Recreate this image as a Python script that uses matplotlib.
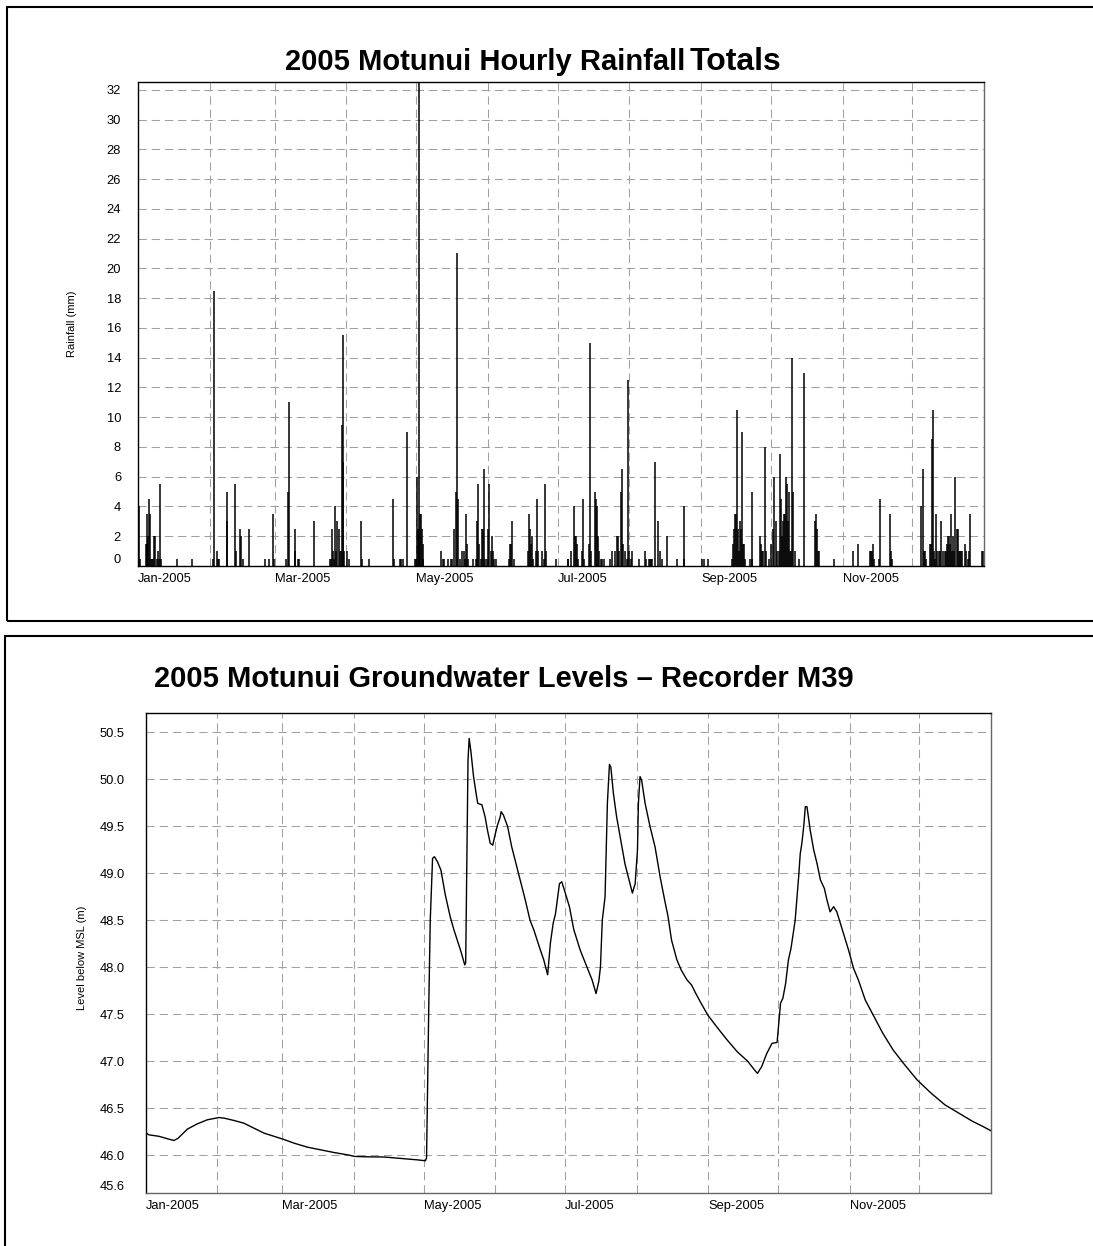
import datetime as dt
import matplotlib
matplotlib.use("Agg")
import matplotlib.pyplot as plt
import matplotlib.dates as mdates
from matplotlib.ticker import FixedLocator, FormatStrFormatter
from matplotlib.patches import Rectangle
import numpy as np

plt.rcParams['font.family'] = ['Liberation Sans', 'DejaVu Sans']
plt.rcParams['lines.scale_dashes'] = False

# hourly rainfall totals (day of year, mm)
rain_day = [0.58, 1.0, 3.45, 3.88, 4.17, 4.6, 5.03, 5.32, 5.75, 6.18, 6.61, 7.19, 7.62, 8.2, 8.63,
            9.06, 9.49, 9.92, 17.1, 23.3, 32.4, 32.8, 34.1, 34.8, 35.2, 38.4, 38.7, 41.8, 42.3,
            44.3, 44.7, 45.2, 47.9, 54.8, 56.5, 58.2, 58.7, 63.8, 65.0, 65.4, 67.6, 67.9, 69.0,
            69.5, 76.1, 82.9, 83.4, 83.7, 84.1, 84.6, 85.0, 85.4, 86.0, 86.6, 87.1, 87.6, 87.9,
            88.3, 88.6, 88.9, 90.2, 90.9, 96.3, 96.8, 99.7, 110.2, 110.6, 112.9, 113.6, 114.2,
            115.9, 119.5, 119.9, 120.4, 120.8, 121.1, 121.4, 121.7, 122.1, 122.5, 122.9, 123.2,
            130.6, 131.4, 132.2, 133.6, 135.0, 135.5, 136.5, 137.0, 137.6, 138.0, 138.8, 139.8,
            140.5, 141.1, 141.6, 142.1, 142.5, 144.5, 145.7, 146.2, 146.7, 147.3, 148.0, 148.4,
            148.8, 149.3, 149.8, 150.6, 151.0, 151.3, 152.1, 152.7, 153.1, 153.4, 154.3, 159.9,
            160.5, 160.9, 161.5, 162.1, 168.4, 168.7, 169.0, 169.4, 169.8, 170.3, 171.6, 172.1,
            172.6, 174.3, 175.0, 175.4, 175.9,
            180.4, 185.3, 185.7, 186.8, 188.2, 188.6, 189.1, 189.5, 190.0, 191.5, 192.0, 192.4,
            194.4, 195.0, 195.5, 197.1, 197.6, 198.0, 198.5, 199.0, 199.7, 200.3, 200.9, 203.8,
            204.6, 205.9, 206.6, 207.0, 207.6, 208.4, 208.8, 209.3, 210.1, 211.0, 211.4, 211.9,
            212.5, 213.3, 216.1, 218.7, 219.2, 220.2, 220.7, 221.2, 221.6, 223.0, 224.1, 225.3,
            226.0, 228.0, 232.3, 235.3, 235.6, 243.1, 244.0, 245.9, 256.1, 256.6, 257.0, 257.5,
            257.9, 258.4, 258.9, 259.2, 259.6, 260.1, 260.5, 261.0, 261.5, 261.9, 263.9, 264.7,
            265.0, 268.2, 268.6, 269.1, 269.5, 270.3, 270.7, 272.0, 273.0, 273.9, 274.5, 275.1,
            275.7, 276.4, 276.8, 277.3, 277.7, 278.2, 278.6, 279.1, 279.6, 280.0, 280.5, 280.9,
            281.4, 281.8, 282.1, 282.7, 283.2, 285.0, 287.3, 291.9, 292.3, 292.8, 293.2, 293.7,
            300.2, 308.4, 310.6, 315.7, 316.2, 316.7, 317.1, 317.6, 319.5, 320.0, 324.3, 324.7,
            325.2, 337.8, 338.4, 338.9, 339.3, 339.8, 341.4, 341.9, 342.4, 342.7, 343.1, 343.6,
            344.2, 344.6, 345.4, 345.9, 346.5, 347.1, 348.1, 348.4, 348.9, 349.4, 349.7, 350.1,
            350.6, 351.0, 351.5, 351.9, 352.4, 353.0, 353.5, 353.9, 354.4, 354.8, 355.3, 356.7,
            357.1, 357.9, 358.5, 359.0, 364.0, 364.4]
rain_mm = [4, 0.5, 1.5, 1.5, 3.5, 2, 4.5, 3.5, 0.5, 0.5, 0.5, 2, 2, 0.5, 1,
           0.5, 5.5, 0.5, 0.5, 0.5, 0.5, 18.5, 1, 0.5, 0.5, 5, 3, 5.5, 1,
           2.5, 2, 0.5, 2.5, 0.5, 0.5, 3.5, 0.5, 0.5, 5, 11, 2.5, 1, 0.5,
           0.5, 3, 0.5, 0.5, 2.5, 1, 0.5, 4, 1, 3, 2.5, 1, 1, 9.5,
           15.5, 7, 1, 1, 0.5, 3, 0.5, 0.5, 4.5, 0.5, 0.5, 0.5, 0.5,
           9, 0.5, 0.5, 6, 2.5, 34, 2.5, 3.5, 3.5, 2.5, 1.5, 0.5,
           1, 0.5, 0.5, 0.5, 0.5, 0.5, 2.5, 5, 21, 4.5, 0.5, 1,
           1, 0.5, 3.5, 1.5, 0.5, 0.5, 0.5, 3, 5.5, 1.5, 0.5, 2.5,
           2.5, 6.5, 0.5, 0.5, 2.5, 5.5, 1, 2, 1, 0.5, 0.5, 0.5,
           1.5, 1.5, 3, 0.5, 1, 3.5, 2.5, 1.5, 2, 0.5, 1, 4.5,
           1, 1, 0.5, 5.5, 1,
           0.5, 0.5, 0.5, 1, 4, 2, 2, 1.5, 0.5, 1, 4.5, 0.5,
           1.5, 15, 1, 5, 4.5, 4, 2, 1, 0.5, 0.5, 0.5, 0.5,
           1, 1, 2, 2, 1, 5, 6.5, 1.5, 1, 0.5, 12.5, 1,
           0.5, 1, 0.5, 1, 0.5, 0.5, 0.5, 0.5, 0.5, 7, 3, 1,
           0.5, 2, 0.5, 4, 0.5, 0.5, 0.5, 0.5, 0.5, 1.5, 2.5, 3.5,
           3.5, 10.5, 2.5, 1, 3, 2.5, 9, 1.5, 1.5, 0.5, 0.5, 5,
           0.5, 2, 1.5, 1, 1, 8, 1, 0.5, 1.5, 2.5, 6, 3,
           1, 1, 7.5, 4.5, 2, 3, 3.5, 3.5, 6, 5.5, 3, 5,
           1, 1, 14, 5, 1, 0.5, 13, 3, 3.5, 2.5, 1, 1,
           0.5, 1, 1.5, 1, 1, 1, 1.5, 0.5, 0.5, 4.5, 3.5, 1,
           0.5, 4, 6.5, 1, 1, 0.5, 1.5, 1.5, 8.5, 10.5, 1, 0.5,
           3.5, 1, 1, 1, 3, 1, 1, 1, 1.5, 2, 2, 1.5,
           3.5, 1, 2, 1, 6, 2.5, 2.5, 1, 1, 1, 1, 1.5,
           1, 0.5, 1, 3.5, 1, 1]

# groundwater level at recorder M39 (day of year, m)
gw_day = [0.0, 1.4, 5.8, 10, 12.2, 14, 18, 22.3, 26.6, 31.6, 33.8, 38.1, 42.4, 46.8, 51.1,
          55.4, 59.3, 64, 69.8, 75.5, 81.3, 87.8, 90.3, 95.7, 102.9, 110, 117.2, 120.8, 121.3,
          122.3, 122.9, 123.9, 124.7, 126, 127.5, 129.4, 131.5, 133.1, 136, 137.8, 138.2, 139.2,
          139.7, 140.4, 141.6, 142.7, 143.4, 145.2, 146.6, 147.6, 148.8, 149.9, 150.9, 151.9,
          153.1, 153.5, 154.5, 156.3, 158.1, 161, 163.9, 166, 167.6, 170.5, 171.9, 173.6, 174.8,
          176, 177, 178.7, 179.7, 181.1, 183, 184.9, 187.7, 190.6, 192.8, 194.5, 195.7, 196.4,
          197.2, 198.4, 199.4, 200.3, 200.9, 202, 203.4, 204.9, 207, 209.2, 210.2, 211.4, 212.4,
          212.8, 213.5, 214.2, 215.7, 217.8, 220, 222.2, 224.1, 225.6, 227.1, 229.4, 231.3,
          233.8, 235.8, 237.6, 239.8, 242.8, 246.5, 251, 255.5, 260, 262.2, 264.2, 266, 268.2,
          270.5, 272.7, 274.2, 275.2, 276.4, 277.6, 278.7, 280.5, 282, 282.7, 283.4, 284.2,
          284.9, 285.6, 287, 288.5, 289.9, 291.4, 293.1, 294.2, 295.6, 297.1, 298.5, 300, 301.4,
          303.6, 305.7, 307.8, 310.8, 313.8, 318.3, 322.8, 327.2, 333.2, 339.2, 345.2, 351.2,
          357.1, 361.6, 365]
gw_level = [46.24, 46.216, 46.2, 46.17, 46.156, 46.18, 46.277, 46.333, 46.376, 46.4, 46.394,
            46.369, 46.34, 46.287, 46.234, 46.2, 46.17, 46.128, 46.085, 46.057, 46.028, 46.0,
            45.986, 45.982, 45.98, 45.965, 45.95, 45.94, 45.97, 47.65, 48.5, 49.16, 49.177,
            49.124, 49.035, 48.77, 48.54, 48.4, 48.18, 48.025, 48.05, 50.2, 50.436, 50.31, 50.03,
            49.85, 49.745, 49.73, 49.6, 49.46, 49.32, 49.3, 49.41, 49.51, 49.6, 49.656, 49.62,
            49.5, 49.28, 49.0, 48.72, 48.5, 48.4, 48.18, 48.08, 47.92, 48.26, 48.47, 48.57,
            48.89, 48.91, 48.8, 48.645, 48.4, 48.18, 48.0, 47.865, 47.72, 47.85, 48.0, 48.5,
            48.75, 49.745, 50.16, 50.13, 49.85, 49.6, 49.39, 49.1, 48.89, 48.79, 48.89, 49.25,
            49.745, 50.03, 49.99, 49.745, 49.5, 49.28, 48.96, 48.72, 48.54, 48.29, 48.08, 47.97,
            47.865, 47.81, 47.72, 47.62, 47.49, 47.37, 47.23, 47.1, 47.0, 46.93, 46.87, 46.94,
            47.08, 47.19, 47.2, 47.62, 47.67, 47.83, 48.08, 48.2, 48.5, 48.96, 49.21, 49.32,
            49.5, 49.71, 49.71, 49.46, 49.25, 49.11, 48.93, 48.84, 48.72, 48.59, 48.645, 48.59,
            48.47, 48.36, 48.18, 47.99, 47.865, 47.65, 47.51, 47.3, 47.12, 46.98, 46.8, 46.66,
            46.535, 46.447, 46.36, 46.305, 46.26]

rain_ticks = list(range(0, 33, 2))
gw_ticks = [45.6, 46.0, 46.5, 47.0, 47.5, 48.0, 48.5, 49.0, 49.5, 50.0, 50.5]
label_months = [1, 3, 5, 7, 9, 11]

year_start = dt.datetime(2005, 1, 1)
year_end = dt.datetime(2006, 1, 1)
t0 = mdates.date2num(year_start)

W, H = 1093, 1246
fig = plt.figure(figsize=(W / 100, H / 100), dpi=100)


def px_box(left, top, right, bottom):
    return [left / W, 1 - bottom / H, (right - left) / W, (bottom - top) / H]


# panel frames (they run off the right / bottom of the page)
fig.patches.append(Rectangle((7 / W, 1 - 621 / H), 1.2, (621 - 7.3) / H,
                             transform=fig.transFigure, fill=False, lw=1.5, ec='black'))
fig.patches.append(Rectangle((5 / W, -0.2), 1.2, 0.2 + (1246 - 636) / H,
                             transform=fig.transFigure, fill=False, lw=1.5, ec='black'))


def style_axes(ax, ypad):
    ax.set_xlim(year_start, year_end)
    ax.xaxis.set_major_locator(FixedLocator(
        [mdates.date2num(dt.datetime(2005, m, 1)) for m in label_months]))
    ax.xaxis.set_major_formatter(mdates.DateFormatter('%b-%Y'))
    ax.xaxis.set_minor_locator(FixedLocator(
        [mdates.date2num(dt.datetime(2005, m, 1)) for m in range(1, 13)]))
    ax.set_axisbelow(True)
    ax.grid(which='both', color='#a0a0a0', lw=0.75, linestyle=(0, (6, 3.5)))
    ax.tick_params(which='both', length=0, labelsize=9.3)
    ax.tick_params(axis='x', pad=5)
    ax.tick_params(axis='y', pad=ypad)
    for lab in ax.get_xticklabels():
        lab.set_horizontalalignment('left')
    ax.spines['left'].set_color('black')
    ax.spines['top'].set_color('black')
    ax.spines['right'].set_color('#666666')
    for s in ax.spines.values():
        s.set_linewidth(1.0)


# rainfall
ax1 = fig.add_axes(px_box(137.7, 82.3, 984.4, 566))
ax1.vlines(t0 + np.array(rain_day), 0, rain_mm, color='black', lw=1.1)
ax1.set_ylim(0, 32.5)
ax1.set_yticks(rain_ticks)
style_axes(ax1, 12)
ax1.get_yticklabels()[0].set_verticalalignment('bottom')
ax1.spines['bottom'].set_color('black')
ax1.set_ylabel('Rainfall (mm)', fontsize=8)
ax1.yaxis.set_label_coords(-0.072, 0.5)

fig.text(285 / W, 1 - 70 / H, '2005 Motunui Hourly Rainfall', fontsize=21,
         fontweight='bold', va='baseline')
fig.text(690 / W, 1 - 70 / H, 'Totals', fontsize=23, fontweight='bold', va='baseline')

# groundwater
ax2 = fig.add_axes(px_box(145.7, 712.7, 990.8, 1192.7))
ax2.plot(t0 + np.array(gw_day), gw_level, color='black', lw=1.0)
ax2.set_ylim(45.6, 50.71)
ax2.set_yticks(gw_ticks)
ax2.yaxis.set_major_formatter(FormatStrFormatter('%.1f'))
style_axes(ax2, 15)
ax2.get_yticklabels()[0].set_verticalalignment('bottom')
ax2.spines['bottom'].set_color('#666666')
ax2.set_ylabel('Level below MSL (m)', fontsize=8)
ax2.yaxis.set_label_coords(-0.069, 0.49)

fig.text(154 / W, 1 - 686.7 / H, '2005 Motunui Groundwater Levels \u2013 Recorder M39',
         fontsize=21, fontweight='bold', va='baseline')

fig.savefig('out.png', dpi=100)
